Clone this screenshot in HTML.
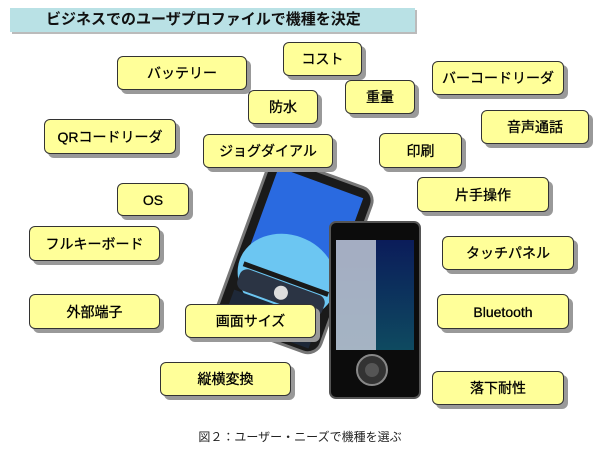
<!DOCTYPE html><html><head><meta charset="utf-8"><style>
body{margin:0;width:600px;height:454px;background:#fff;position:relative;overflow:hidden;font-family:"Liberation Sans","Noto Sans CJK JP",sans-serif}
.t{position:absolute;left:10px;top:8px;width:405px;height:24px;background:#b9e1e5;box-shadow:2px 2px 0 #bbb;font-size:15px;font-weight:bold;line-height:24px;padding-left:36px;box-sizing:border-box;color:#111}
.b{position:absolute;background:#ffff99;border:1.5px solid #333;border-radius:6px;box-shadow:4px 4px 0 #999;box-sizing:border-box;display:flex;align-items:center;justify-content:center;font-size:14px;color:#000;-webkit-text-stroke:0.3px #000}
.c{position:absolute;top:428px;left:0;width:600px;text-align:center;font-size:12px;color:#222}
</style></head><body>
<div class="t">ビジネスでのユーザプロファイルで機種を決定</div>
<svg style="position:absolute;left:0;top:0" width="600" height="454">
<defs><linearGradient id="g2" x1="0" y1="0" x2="0" y2="1"><stop offset="0" stop-color="#0b1c5a"/><stop offset="1" stop-color="#0e4a60"/></linearGradient></defs>
<g transform="rotate(20 300 255)">
<rect x="240" y="170" width="110" height="175" rx="14" fill="#1a1a1a" stroke="#777" stroke-width="3"/>
<rect x="250" y="180" width="90" height="100" fill="#2a6ae0"/>
<ellipse cx="295" cy="280" rx="50" ry="42" fill="#6cc6f2"/>
<rect x="250" y="280" width="90" height="5" fill="#1a1a1a"/>
<rect x="250" y="286" width="90" height="22" rx="8" fill="#2b3444"/>
<circle cx="295" cy="297" r="7" fill="#ddd"/>
<rect x="250" y="310" width="90" height="30" fill="#1e2838"/>
</g>
<rect x="330" y="222" width="90" height="176" rx="6" fill="#0c0c0c" stroke="#555" stroke-width="2"/>
<rect x="336" y="240" width="78" height="110" fill="url(#g2)"/>
<rect x="336" y="240" width="40" height="110" fill="#bfc7d5" opacity="0.85"/>
<circle cx="372" cy="370" r="15" fill="#333" stroke="#888" stroke-width="2"/>
<circle cx="372" cy="370" r="7" fill="#555"/>
</svg>
<div class="b" style="left:117px;top:56px;width:130px;height:34px">バッテリー</div>
<div class="b" style="left:283px;top:42px;width:79px;height:34px">コスト</div>
<div class="b" style="left:248px;top:90px;width:70px;height:34px">防水</div>
<div class="b" style="left:345px;top:80px;width:70px;height:34px">重量</div>
<div class="b" style="left:432px;top:61px;width:132px;height:34px">バーコードリーダ</div>
<div class="b" style="left:481px;top:110px;width:108px;height:34px">音声通話</div>
<div class="b" style="left:44px;top:119px;width:132px;height:35px">QRコードリーダ</div>
<div class="b" style="left:203px;top:134px;width:130px;height:34px">ジョグダイアル</div>
<div class="b" style="left:379px;top:133px;width:83px;height:35px">印刷</div>
<div class="b" style="left:117px;top:183px;width:72px;height:33px">OS</div>
<div class="b" style="left:417px;top:177px;width:132px;height:35px">片手操作</div>
<div class="b" style="left:29px;top:226px;width:131px;height:35px">フルキーボード</div>
<div class="b" style="left:442px;top:236px;width:132px;height:34px">タッチパネル</div>
<div class="b" style="left:29px;top:294px;width:131px;height:35px">外部端子</div>
<div class="b" style="left:437px;top:294px;width:132px;height:35px">Bluetooth</div>
<div class="b" style="left:185px;top:304px;width:131px;height:34px">画面サイズ</div>
<div class="b" style="left:160px;top:362px;width:131px;height:34px">縦横変換</div>
<div class="b" style="left:432px;top:371px;width:132px;height:34px">落下耐性</div>
<div class="c">図２：ユーザー・ニーズで機種を選ぶ</div>
</body></html>
